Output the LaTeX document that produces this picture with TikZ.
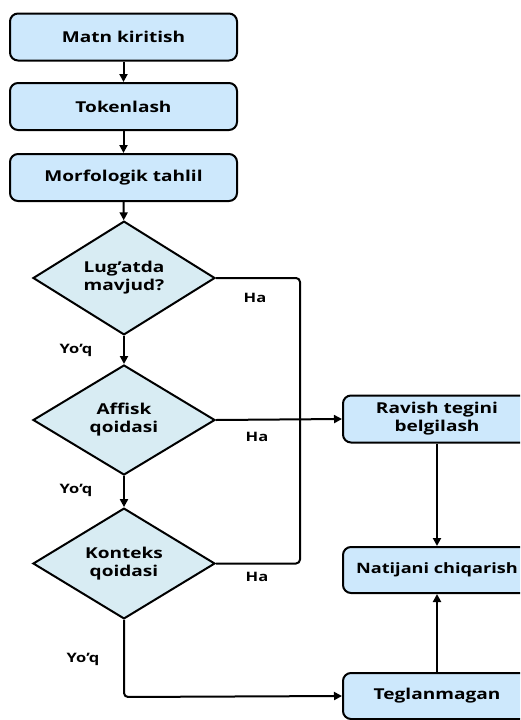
\documentclass[tikz,border=0pt]{standalone}
\usepackage{fontspec}
\setmainfont{Open Sans}[FakeStretch=1.27]
\usetikzlibrary{shapes.geometric,arrows.meta}
\definecolor{boxblue}{HTML}{CDE8FC}
\definecolor{diablue}{HTML}{D8ECF3}
\tikzset{
  stepbox/.style={draw=black, line width=2pt, rounded corners=8pt, fill=boxblue,
    minimum width=227pt, minimum height=47pt, inner sep=0pt, align=center,
    font=\bfseries\fontsize{15}{18}\selectfont},
  sidebox/.style={stepbox, minimum width=188pt},
  decide/.style={diamond, draw=black, line width=2pt, fill=diablue,
    minimum width=182pt, minimum height=110pt, inner sep=0pt, align=center,
    font=\bfseries\fontsize{15}{18}\selectfont},
  conn/.style={line width=2pt, rounded corners=4pt},
  arr/.style={conn, -{Triangle[length=8pt, width=8pt]}},
  lbl/.style={font=\bfseries\fontsize{13}{15}\selectfont, inner sep=0pt}
}
\begin{document}
\begin{tikzpicture}[x=1pt, y=-1pt]
\useasboundingbox (0,0) rectangle (520,720);
\clip (0,0) rectangle (520,720);
\fill[white] (0,0) rectangle (520,720);

\node[stepbox] (b1) at (123.5,37) {Matn kiritish};
\node[stepbox] (b2) at (123.5,106.5) {Tokenlash};
\node[stepbox] (b3) at (123.5,177.5) {Morfologik tahlil};
\node[decide] (d1) at (124,278) {Lug’atda\\mavjud?};
\node[decide] (d2) at (124,420) {Affisk\\qoidasi};
\node[decide, minimum height=107pt] (d3) at (124,563.5) {Konteks\\qoidasi};
\node[sidebox] (r) at (437,419) {Ravish tegini\\belgilash};
\node[sidebox, minimum height=46pt, font=\bfseries\fontsize{14.3}{17}\selectfont] (n) at (437,570) {Natijani chiqarish};
\node[sidebox, minimum height=46pt] (t) at (437,696) {Teglanmagan};

\coordinate (j) at (300,420);
\coordinate (c) at (124,697);

\draw[arr] (b1) -- (b2);
\draw[arr] (b2) -- (b3);
\draw[arr] (b3) -- (d1);
\draw[arr] (d1) -- (d2);
\draw[arr] (d2) -- (d3);
\draw[conn] (d1.east) -| (j);
\draw[conn] (d3.east) -| (j);
\draw[arr] (d2.east) -- (r.west);
\draw[arr] (d3.south) -- (c) -- (t.west);
\draw[arr] (r) -- (n);
\draw[arr] (t) -- (n);

\node[lbl] (h1) at (255,298) {Ha};
\node[lbl] (h2) at (257,437) {Ha};
\node[lbl] (h3) at (257,577) {Ha};
\node[lbl] (y1) at (76,350) {Yo’q};
\node[lbl] (y2) at (76,490) {Yo’q};
\node[lbl] (y3) at (83,659) {Yo’q};
\end{tikzpicture}
\end{document}
